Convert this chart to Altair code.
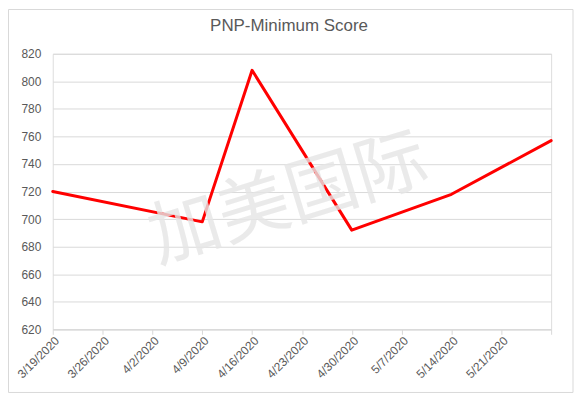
import altair as alt
import pandas as pd

# ---- data ----
dates = ["2020-03-19", "2020-04-09", "2020-04-16", "2020-04-30", "2020-05-14", "2020-05-28"]
scores = [720, 698, 808, 692, 718, 757]
tick_dates = ["2020-03-19", "2020-03-26", "2020-04-02", "2020-04-09", "2020-04-16",
              "2020-04-23", "2020-04-30", "2020-05-07", "2020-05-14", "2020-05-21", "2020-05-28"]
y_ticks = [620, 640, 660, 680, 700, 720, 740, 760, 780, 800, 820]
title_text = "PNP-Minimum Score"
watermark_text = "加美国际"

df = pd.DataFrame({"date": dates, "score": scores})


def dt(s):
    t = pd.Timestamp(s)
    return alt.DateTime(year=t.year, month=t.month, date=t.day, utc=True)


tick_vals = [dt(s) for s in tick_dates]

GRID = "#d9d9d9"
TXT = "#595959"

base = alt.Chart(df)

line = base.mark_line(color="#ff0000", strokeWidth=3, strokeJoin="round", strokeCap="round").encode(
    x=alt.X("date:T", timeUnit="utcyearmonthdate", title=None,
            scale=alt.Scale(type="utc", domain=[tick_vals[0], tick_vals[-1]]),
            axis=alt.Axis(values=tick_vals,
                          labelExpr="(utcmonth(datum.value)==4 && utcdate(datum.value)==28) ? '' : utcFormat(datum.value, '%-m/%-d/%Y')",
                          labelAngle=-45, labelAlign="right", labelBaseline="middle",
                          labelPadding=4, labelOffset=4, labelColor=TXT, labelFontSize=12,
                          labelFont="Liberation Sans", labelOverlap=False, labelBound=False,
                          domainColor=GRID, tickColor=GRID, tickSize=5, grid=False)),
    y=alt.Y("score:Q", title=None,
            scale=alt.Scale(domain=[620, 820], nice=False, zero=False),
            axis=alt.Axis(values=y_ticks, labelColor=TXT, labelFontSize=12,
                          labelFont="Liberation Sans", labelPadding=12,
                          domain=False, ticks=False, gridColor=GRID)),
)

title = alt.Chart(pd.DataFrame({"t": [title_text]})).mark_text(
    fontSize=17, font="Liberation Sans", color=TXT, align="center", baseline="middle"
).encode(x=alt.value(237.5), y=alt.value(-28), text="t:N")

watermark = alt.Chart(pd.DataFrame({"t": [watermark_text]})).mark_text(
    fontSize=72, font="Noto Sans CJK SC", color="#e6e6e6", opacity=0.8,
    angle=343, align="center", baseline="middle"
).encode(x=alt.value(237), y=alt.value(147), text="t:N")

frame = alt.Chart(pd.DataFrame({"a": [0]})).mark_rect(
    fill=None, stroke=GRID, strokeWidth=1
).encode(x=alt.value(-44.5), x2=alt.value(523), y=alt.value(-44.5), y2=alt.value(340.5))

chart = alt.layer(frame, line, watermark, title).properties(
    width=501, height=277,
    autosize=alt.AutoSizeParams(type="none"),
    padding={"left": 45, "top": 45, "right": 24, "bottom": 63},
).configure_view(stroke=None).configure(background="white")

chart.save("out.html", embed_options={"renderer": "svg", "actions": False})
